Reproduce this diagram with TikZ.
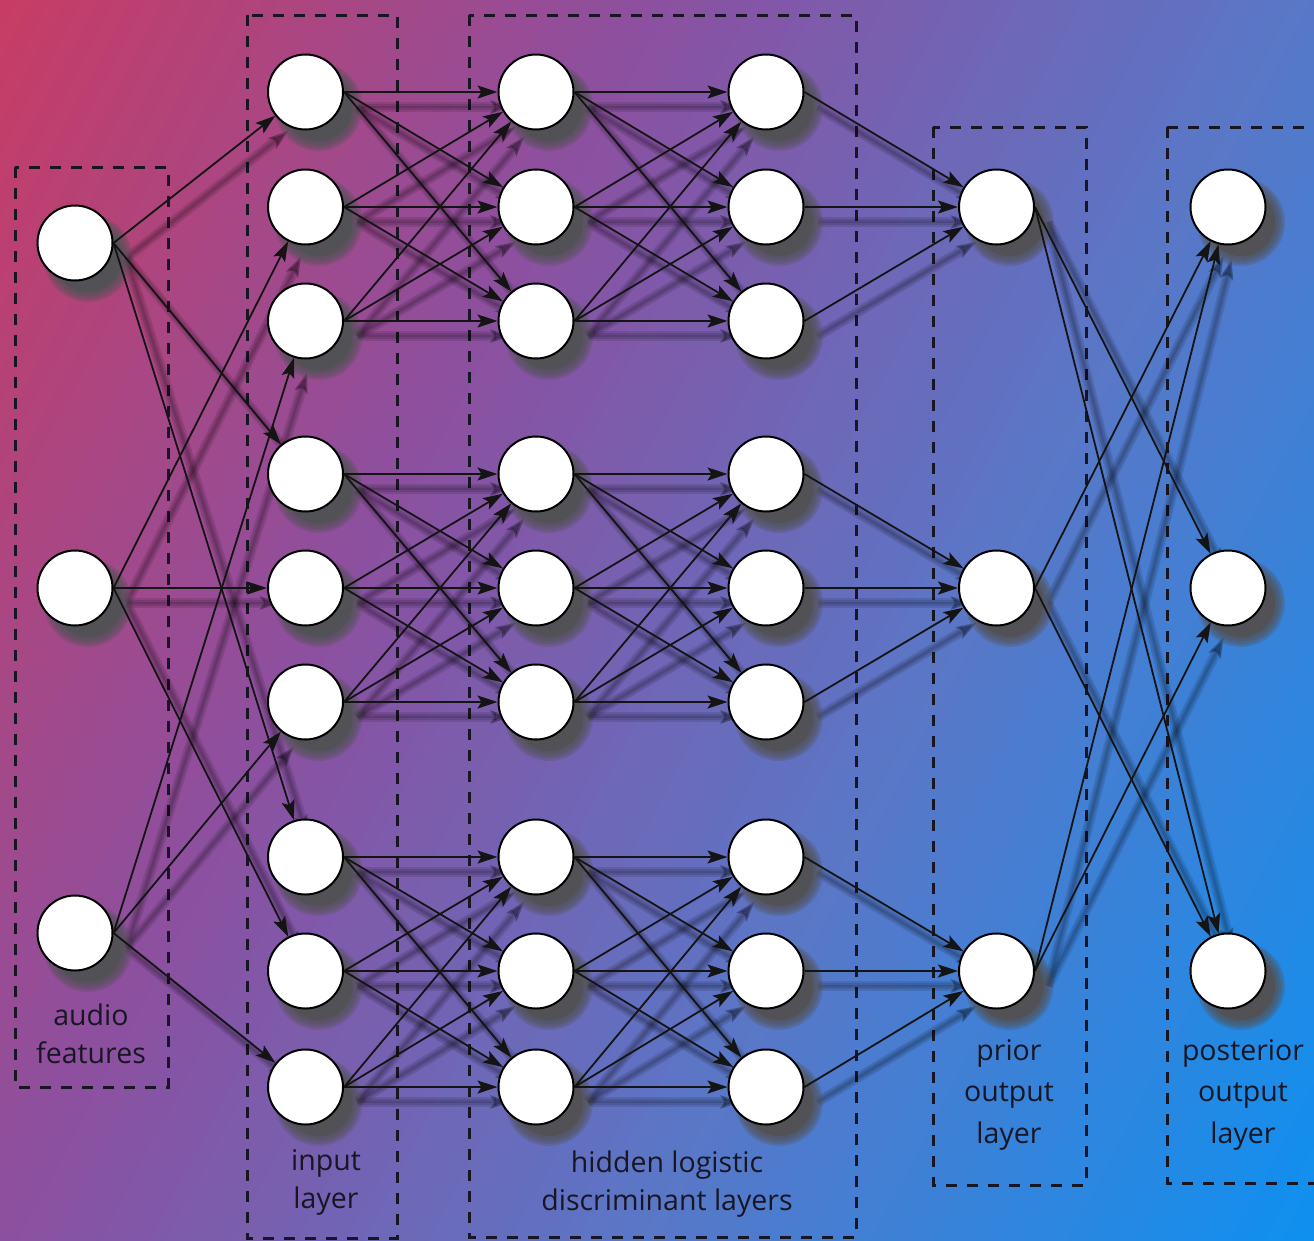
\documentclass[tikz,border=0pt]{standalone}
\usepackage{fontspec}
\setmainfont{Open Sans}
\usetikzlibrary{arrows.meta}

\definecolor{bgA}{RGB}{200,60,100}
\definecolor{bgB}{RGB}{140,80,160}
\definecolor{bgC}{RGB}{88,120,200}
\definecolor{bgD}{RGB}{14,144,240}
\definecolor{shadowgray}{RGB}{82,82,86}
\definecolor{inkdark}{RGB}{25,22,35}

\pgfdeclarelayer{backdrop}
\pgfdeclarelayer{eshadow}
\pgfdeclarelayer{nshadow}
\pgfdeclarelayer{front}
\pgfsetlayers{backdrop,eshadow,nshadow,main,front}

\tikzset{
  neuron/.style={circle, draw=black, line width=2pt, fill=white,
    minimum size=75pt, inner sep=0pt},
  link/.style={draw=black!92, line width=1.8pt,
    -{Stealth[length=20pt,width=13pt,inset=4pt]}},
  haze/.style={draw=black, line width=#1, draw opacity=0.11, fill opacity=0.11,
    -{Stealth[length=20pt,width=13pt,inset=4pt]}},
  layerbox/.style={draw=inkdark, line width=3pt, dash pattern=on 11pt off 10pt},
  caption/.style={font=\fontsize{28.5}{38}\selectfont, text=inkdark,
    align=center, inner sep=0pt, anchor=base},
  tallcaption/.style={caption, font=\fontsize{28.5}{41.5}\selectfont},
}

% all connections of the network, drawn with the style given as argument;
% each link leaves the east side of its source and points at the target centre
\newcommand\netlinks[1]{%
  \foreach \k in {1,2,3}{%
    \foreach \g in {0,1,2}{%
      \pgfmathtruncatemacro\dst{\k+3*\g}%
      \draw[#1] (au\k.east) -- (in\dst);
    }}%
  \foreach \g in {0,1,2}{%
    \foreach \p in {1,2,3}{%
      \foreach \q in {1,2,3}{%
        \pgfmathtruncatemacro\src{3*\g+\p}%
        \pgfmathtruncatemacro\dst{3*\g+\q}%
        \draw[#1] (in\src.east) -- (ha\dst);
        \draw[#1] (ha\src.east) -- (hb\dst);
      }}}%
  \foreach \g in {1,2,3}{%
    \foreach \p in {1,2,3}{%
      \pgfmathtruncatemacro\src{3*(\g-1)+\p}%
      \draw[#1] (hb\src.east) -- (pr\g);
    }}%
  \foreach \p in {1,2,3}{%
    \foreach \q in {1,2,3}{%
      \ifnum\p=\q\else\draw[#1] (pr\p.east) -- (po\q);\fi
    }}%
}

\begin{document}
\begin{tikzpicture}[x=1pt, y=-1pt]
\useasboundingbox (0,0) rectangle (1314,1240);

% diagonal colour ramp behind everything
\begin{pgfonlayer}{backdrop}
\begin{scope}
  \clip (0,0) rectangle (1314,1240);
  \begin{scope}[rotate=-27.8]
    \foreach \i in {0,...,119}{%
      \pgfmathsetmacro{\xa}{\i*14.506-(\i==0)*40}%
      \pgfmathsetmacro{\xb}{(\i+1)*14.506+1.5+(\i==119)*40}%
      \pgfmathsetmacro{\bgpos}{3*(\i+0.5)/120}%
      \pgfmathtruncatemacro{\seg}{min(2,floor(\bgpos))}%
      \pgfmathsetmacro{\mixpct}{100*(1-(\bgpos-\seg))}%
      \ifcase\seg \colorlet{stripc}{bgA!\mixpct!bgB}%
      \or \colorlet{stripc}{bgB!\mixpct!bgC}%
      \else \colorlet{stripc}{bgC!\mixpct!bgD}\fi
      \fill[stripc] (\xa,-800) rectangle (\xb,1300);
    }
  \end{scope}
\end{scope}
% layer frames
\draw[layerbox] (15,167) rectangle (168,1087);
\draw[layerbox] (247,15) rectangle (397,1238);
\draw[layerbox] (469,15) rectangle (856,1237);
\draw[layerbox] (933,127) rectangle (1086,1185);
\draw[layerbox] (1167,127) rectangle (1345,1183);
\end{pgfonlayer}

% neurons
\begin{pgfonlayer}{front}
  \foreach \k/\y in {1/243, 2/588, 3/933}
    \node[neuron] (au\k) at (75,\y) {};
  \foreach \k/\y in {1/92, 2/207, 3/321, 4/474, 5/588, 6/702, 7/857, 8/971, 9/1087}{
    \node[neuron] (in\k) at (305.5,\y) {};
    \node[neuron] (ha\k) at (536,\y) {};
    \node[neuron] (hb\k) at (766,\y) {};
  }
  \foreach \k/\y in {1/207, 2/588, 3/971}{
    \node[neuron] (pr\k) at (996.5,\y) {};
    \node[neuron] (po\k) at (1228,\y) {};
  }
\end{pgfonlayer}

% soft drop shadows of the neurons
\begin{pgfonlayer}{nshadow}
  \foreach \n in {au1,au2,au3,in1,in2,in3,in4,in5,in6,in7,in8,in9,
                  ha1,ha2,ha3,ha4,ha5,ha6,ha7,ha8,ha9,
                  hb1,hb2,hb3,hb4,hb5,hb6,hb7,hb8,hb9,
                  pr1,pr2,pr3,po1,po2,po3}{
    \fill[shadowgray] ([shift={(13,15)}]\n.center) circle (34);
    \foreach \r in {36,38,40,42,44}
      \fill[shadowgray, opacity=0.28] ([shift={(13,15)}]\n.center) circle (\r);
  }
\end{pgfonlayer}

% soft shadows of the connections
\begin{pgfonlayer}{eshadow}
\begin{scope}[transform canvas={shift={(13,15)}}]
  \netlinks{haze=10pt}
  \netlinks{haze=6pt}
  \netlinks{haze=2.5pt}
\end{scope}
\end{pgfonlayer}

% connections
\netlinks{link}

% captions (positioned at the baseline of their last line)
\node[caption] (capA) at (91,1063) {audio\\features};
\node[caption] (capB) at (326,1208) {input\\layer};
\node[caption] (capC) at (667,1210) {hidden logistic\\discriminant layers};
\node[tallcaption] (capD) at (1009,1143) {prior\\output\\layer};
\node[tallcaption] (capE) at (1243,1143) {posterior\\output\\layer};
\end{tikzpicture}
\end{document}
